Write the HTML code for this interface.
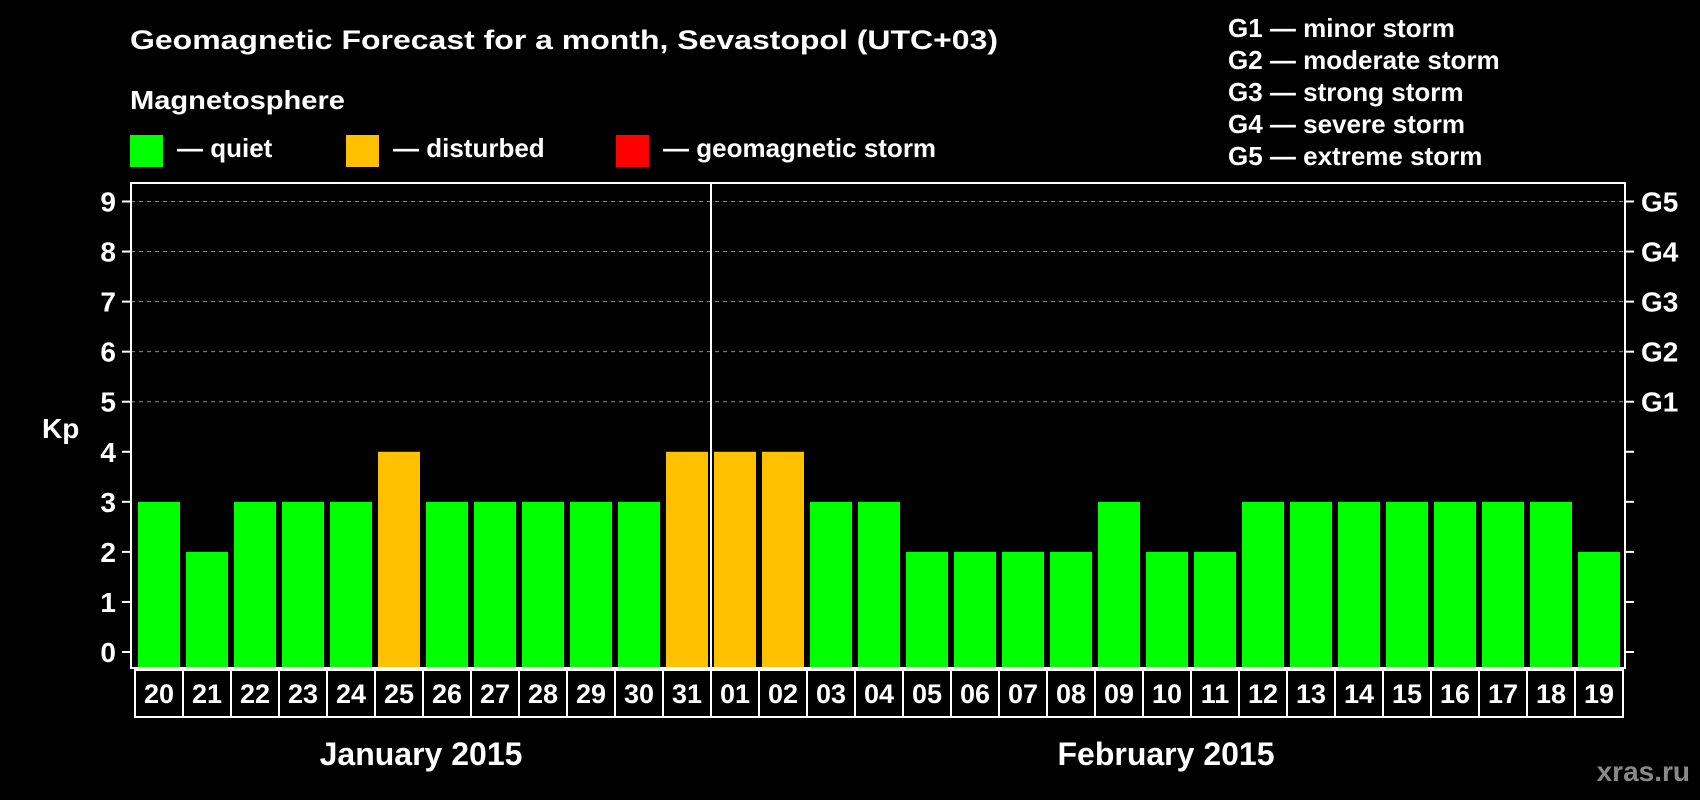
<!DOCTYPE html>
<html><head><meta charset="utf-8"><style>
html,body{margin:0;padding:0;background:#000;}
svg{display:block;font-family:"Liberation Sans",Arial,sans-serif;font-weight:bold;}
</style></head><body>
<svg id="chart" width="1700" height="800" viewBox="0 0 1700 800">
<rect x="0" y="0" width="1700" height="800" fill="#000"/>
<text x="130" y="49" fill="#fff" font-size="27" textLength="868" lengthAdjust="spacingAndGlyphs">Geomagnetic Forecast for a month, Sevastopol (UTC+03)</text>
<text x="130" y="109" fill="#fff" font-size="26" textLength="215" lengthAdjust="spacingAndGlyphs">Magnetosphere</text>
<g>
<rect x="130" y="135" width="33" height="32" fill="#00ff00"/>
<text x="177" y="157" fill="#fff" font-size="26">— quiet</text></g>
<g>
<rect x="346" y="135" width="33" height="32" fill="#ffc000"/>
<text x="393" y="157" fill="#fff" font-size="26">— disturbed</text></g>
<g>
<rect x="616" y="135" width="33" height="32" fill="#ff0000"/>
<text x="663" y="157" fill="#fff" font-size="26">— geomagnetic storm</text></g>
<g fill="#fff" font-size="26">
<text x="1228" y="37">G1 — minor storm</text>
<text x="1228" y="69">G2 — moderate storm</text>
<text x="1228" y="101">G3 — strong storm</text>
<text x="1228" y="133">G4 — severe storm</text>
<text x="1228" y="165">G5 — extreme storm</text>
</g>
<text x="42" y="438" fill="#fff" font-size="28">Kp</text>
<g id="grid"></g>
<g id="bars"></g>
<g id="axes"></g>
<text x="421" y="765" fill="#fff" font-size="32" text-anchor="middle">January 2015</text>
<text x="1166" y="765" fill="#fff" font-size="32" text-anchor="middle">February 2015</text>
<text x="1690" y="781" fill="#888" font-size="28" text-anchor="end">xras.ru</text>
</svg>
<script>
const days = ["20","21","22","23","24","25","26","27","28","29","30","31","01","02","03","04","05","06","07","08","09","10","11","12","13","14","15","16","17","18","19"];
const kpValues = [3,2,3,3,3,4,3,3,3,3,3,4,4,4,3,3,2,2,2,2,3,2,2,3,3,3,3,3,3,3,2];
const yTicks = [0,1,2,3,4,5,6,7,8,9];
const gLabels = ["","","","","","G1","G2","G3","G4","G5"];
const NS="http://www.w3.org/2000/svg";
const L=131,R=1625,T=183,B=668,Y0=652,Y9=201.5;
const y=v=>Y0-(Y0-Y9)*v/9;
const x=i=>138+i*48;
function mk(t,a,p){const e=document.createElementNS(NS,t);for(const k in a)e.setAttribute(k,a[k]);p.appendChild(e);return e;}
const grid=document.getElementById('grid'),bars=document.getElementById('bars'),axes=document.getElementById('axes');
yTicks.forEach((v,i)=>{
  if(v>=5){const g=mk('line',{x1:L,x2:R,y1:y(v),y2:y(v),stroke:'#888','stroke-width':1,'stroke-dasharray':'4,4'},grid);
  
  }
  mk('line',{x1:L-9,x2:L,y1:y(v),y2:y(v),stroke:'#fff','stroke-width':2},axes);
  mk('line',{x1:R,x2:R+9,y1:y(v),y2:y(v),stroke:'#fff','stroke-width':2},axes);
  const t=mk('text',{x:116,y:y(v)+10,fill:'#fff','font-size':28,'text-anchor':'end'},axes);
  t.textContent=v;
  
  
  if(gLabels[i]){const g=mk('text',{x:1641,y:y(v)+10,fill:'#fff','font-size':28},axes);
  g.textContent=gLabels[i];
  
  }
});
kpValues.forEach((v,i)=>{
  const r=mk('rect',{x:x(i),y:y(v),width:42,height:B-y(v),fill:v>=5?'#ff0000':(v>=4?'#ffc000':'#00ff00')},bars);
  
  
  const c=mk('rect',{x:x(i)-3,y:670,width:48,height:47,fill:'none',stroke:'#fff','stroke-width':2},axes);
  
  
  const t=mk('text',{x:x(i)+21,y:703,fill:'#fff','font-size':27,'text-anchor':'middle'},axes);
  t.textContent=days[i];
  
  
});
const f=mk('rect',{x:L,y:T,width:R-L,height:B-T,fill:'none',stroke:'#fff','stroke-width':2},axes);


const d=mk('line',{x1:x(12)-3,x2:x(12)-3,y1:T,y2:B,stroke:'#fff','stroke-width':2},axes);


</script>
</body></html>
